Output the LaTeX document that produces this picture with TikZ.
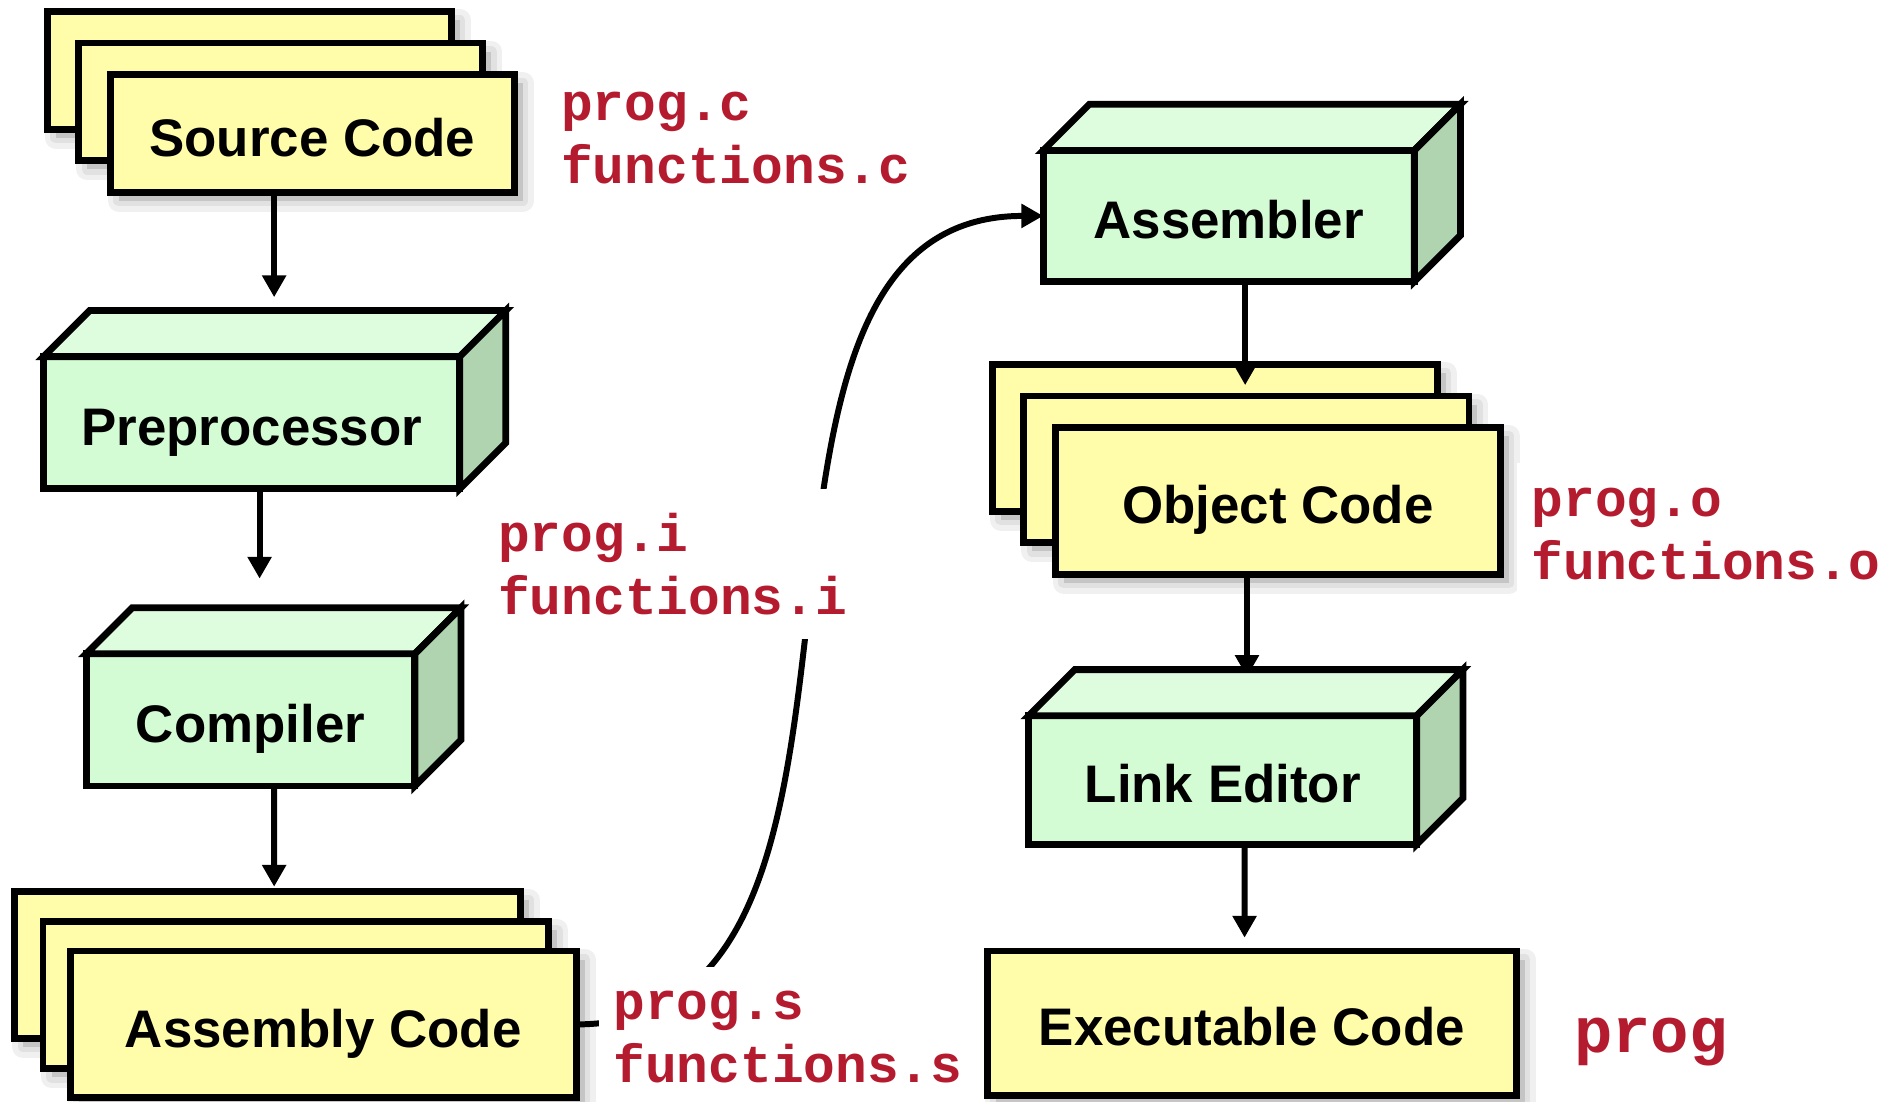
\documentclass[tikz,border=0pt]{standalone}
\usepackage{fontspec}
\setsansfont{Liberation Sans}
\setmonofont{Liberation Mono}
\usetikzlibrary{arrows.meta}

\definecolor{sheetfill}{RGB}{255,252,170}
\definecolor{toolfront}{RGB}{212,252,212}
\definecolor{tooltop}{RGB}{222,252,222}
\definecolor{toolside}{RGB}{176,212,176}
\definecolor{filered}{RGB}{181,27,46}

\pgfdeclarelayer{background}
\pgfsetlayers{background,main}

\tikzset{
    BoxFont/.style = {font=\fontsize{12.4}{15}\selectfont\sffamily\bfseries, text height=10.6pt, text depth=0pt},
    SoftShadow/.style = {
        preaction={draw=black, draw opacity=0.06, line width=0.18cm, line join=round,
            transform canvas={shift={(0.07cm,-0.07cm)}}},
        preaction={draw=black, draw opacity=0.06, line width=0.09cm, line join=round,
            transform canvas={shift={(0.07cm,-0.07cm)}}},
        preaction={fill=black, fill opacity=0.12, transform canvas={shift={(0.07cm,-0.07cm)}}}},
    SheetStyle/.style = {draw, line width=1.6pt, fill=sheetfill, outer sep=0pt, BoxFont, SoftShadow},
    SrcSheet/.style = {SheetStyle, minimum width=3.33cm, minimum height=0.97cm},
    AsmSheet/.style = {SheetStyle, minimum width=4.17cm, minimum height=1.21cm},
    ObjSheet/.style = {SheetStyle, minimum width=3.67cm, minimum height=1.21cm},
    ToolStyle/.style = {draw, line width=1.6pt, fill=toolfront, outer sep=0pt, BoxFont},
    FaceStyle/.style = {draw, line width=1.6pt},
    ArrowStyle/.style = {line width=1.4pt, -{Triangle[length=0.18cm,width=0.19cm]}},
    FileStyle/.style = {fill=white, text=filered, anchor=west, align=left,
        inner xsep=0.12cm, inner ysep=0.2cm, font=\fontsize{12.4}{14.8}\selectfont\ttfamily\bfseries}
}

\newcommand{\ToolFaces}[1]{%
    \filldraw[FaceStyle, fill=tooltop] (#1.north west) -- ++(0.38,0.38)
        -- ([shift={(0.38,0.38)}]#1.north east) -- (#1.north east) -- cycle;
    \filldraw[FaceStyle, fill=toolside] (#1.north east) -- ([shift={(0.38,0.38)}]#1.north east)
        -- ([shift={(0.38,0.38)}]#1.south east) -- (#1.south east) -- cycle;}

\begin{document}
\begin{tikzpicture}
    \useasboundingbox (0,0) rectangle (15.68,9.08);
    \begin{pgfonlayer}{background}
        \fill[white] (0,0) rectangle (15.68,9.08);
    \end{pgfonlayer}

    \node[SrcSheet] (Src3) at (2.055,8.50) {};
    \node[SrcSheet] (Src2) at (2.315,8.24) {};
    \node[SrcSheet] (Src) at (2.575,7.98) {Source Code};

    \node[ToolStyle, minimum width=3.43cm, minimum height=1.09cm] (Pre) at (2.075,5.595) {Preprocessor};
    \ToolFaces{Pre}
    \node[ToolStyle, minimum width=2.71cm, minimum height=1.09cm] (Comp) at (2.065,3.145) {Compiler};
    \ToolFaces{Comp}

    \node[AsmSheet] (Asm3) at (2.205,1.125) {};
    \node[AsmSheet] (Asm2) at (2.44,0.875) {};
    \node[AsmSheet] (Asm) at (2.665,0.635) {Assembly Code};

    \node[ToolStyle, minimum width=3.06cm, minimum height=1.08cm] (Assem) at (10.13,7.30) {Assembler};
    \ToolFaces{Assem}

    \node[ObjSheet] (Obj3) at (10.015,5.47) {};
    \node[ObjSheet] (Obj2) at (10.275,5.21) {};
    \node[ObjSheet] (Obj) at (10.535,4.95) {Object Code};

    \node[ToolStyle, minimum width=3.20cm, minimum height=1.06cm] (Link) at (10.08,2.65) {Link Editor};
    \ToolFaces{Link}

    \node[SheetStyle, minimum width=4.36cm, minimum height=1.19cm] (Exe) at (10.32,0.645) {Executable Code};

    \begin{pgfonlayer}{background}
        \draw[ArrowStyle] ([xshift=-0.315cm]Src.south) -- ([xshift=0.185cm,yshift=0.49cm]Pre.north);
        \draw[ArrowStyle] ([xshift=-0.255cm]Obj.south) -- ([xshift=0.20cm,yshift=0.32cm]Link.north);
        \draw[ArrowStyle] (Asm.east) to[out=0, in=180] (Assem.west);
    \end{pgfonlayer}

    \draw[ArrowStyle] ([xshift=0.065cm]Pre.south) -- ([xshift=0.075cm,yshift=0.62cm]Comp.north);
    \draw[ArrowStyle] ([xshift=0.195cm]Comp.south) -- ([xshift=0.055cm,yshift=0.04cm]Asm3.north);
    \draw[ArrowStyle] ([xshift=0.135cm]Assem.south) -- ([xshift=0.25cm,yshift=-0.17cm]Obj3.north);
    \draw[ArrowStyle] ([xshift=0.18cm]Link.south) -- ([xshift=-0.06cm,yshift=0.11cm]Exe.north);

    \node[FileStyle] (Fc) at (4.50,7.94) {prog.c\\functions.c};
    \node[FileStyle] (Fi) at (3.98,4.43) {prog.i\\functions.i};
    \node[FileStyle] (Fs) at (4.93,0.53) {prog.s\\functions.s};
    \node[FileStyle] (Fo) at (12.50,4.68) {prog.o\\functions.o};
    \node[FileStyle, font=\fontsize{15}{18}\selectfont\ttfamily\bfseries] (Fx) at (12.85,0.49) {prog};
\end{tikzpicture}
\end{document}
